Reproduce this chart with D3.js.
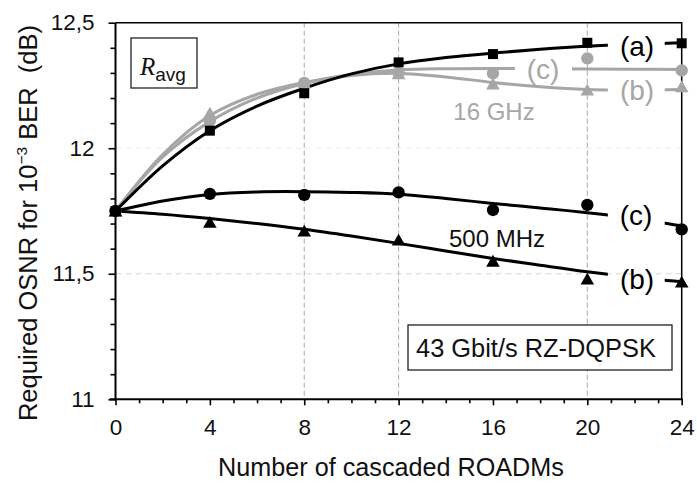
<!DOCTYPE html>
<html>
<head>
<meta charset="utf-8">
<script src="https://cdn.jsdelivr.net/npm/d3@7"></script>
<style>
  html, body { margin: 0; padding: 0; background: #fff; }
  svg { display: block; font-family: "Liberation Sans", Arial, sans-serif; }
  text { white-space: pre; }
</style>
</head>
<body>
<svg id="chart" width="697" height="484"></svg>
<script>
// Measured points: number of cascaded ROADMs vs required OSNR (dB)
const roadms = [0, 4, 8, 12, 16, 20, 24];
const sqA_16GHz   = [11.75, 12.07, 12.219, 12.342, 12.375, 12.42, 12.418];
const circC_16GHz = [11.75, 12.11, 12.26, 12.30, 12.298, 12.358, 12.31];
const triB_16GHz  = [11.75, 12.14, 12.26, 12.296, 12.256, 12.232, 12.245];
const circC_500MHz = [11.75, 11.818, 11.814, 11.824, 11.754, 11.774, 11.677];
const triB_500MHz  = [11.75, 11.705, 11.67, 11.634, 11.55, 11.479, 11.467];

// Trend curves through the measurements
const fitX = [0, 2, 4, 6, 8, 10, 12, 14, 16, 18, 20, 22, 24];
const fitA_16GHz   = [11.75, 11.93, 12.07, 12.168, 12.239, 12.296, 12.336, 12.361, 12.379, 12.394, 12.406, 12.414, 12.42];
const fitC_16GHz   = [11.75, 11.965, 12.106, 12.2, 12.258, 12.295, 12.312, 12.317, 12.318, 12.317, 12.316, 12.315, 12.314];
const fitB_16GHz   = [11.75, 11.975, 12.13, 12.215, 12.262, 12.29, 12.298, 12.284, 12.262, 12.245, 12.234, 12.232, 12.234];
const fitC_500MHz  = [11.75, 11.79, 11.816, 11.826, 11.827, 11.824, 11.817, 11.8, 11.78, 11.762, 11.743, 11.72, 11.69];
const fitB_500MHz  = [11.75, 11.737, 11.72, 11.7, 11.677, 11.65, 11.621, 11.591, 11.561, 11.534, 11.508, 11.486, 11.468];

const xTicks = [0, 4, 8, 12, 16, 20, 24];
const yTicks = [11, 11.5, 12, 12.5];
const xGrid = [8, 12, 20];
const yGrid = [11.5, 12];

const BLACK = "#000";
const GREY = "#a6a6a6";

const svg = d3.select("#chart");
const margin = { left: 115.5, right: 15.3, top: 22.7, bottom: 84.7 };
const W = 697, H = 484;

const x = d3.scaleLinear().domain([0, 24]).range([margin.left, W - margin.right]);
const y = d3.scaleLinear().domain([11, 12.5]).range([H - margin.bottom, margin.top]);

// grid
svg.append("g").selectAll("line").data(xGrid).join("line")
  .attr("x1", d => x(d)).attr("x2", d => x(d))
  .attr("y1", y(12.5)).attr("y2", y(11))
  .attr("stroke", "#a8a8a8").attr("stroke-width", 1).attr("stroke-dasharray", "5,3");
svg.append("g").selectAll("line").data(yGrid).join("line")
  .attr("x1", x(0)).attr("x2", x(24))
  .attr("y1", d => y(d)).attr("y2", d => y(d))
  .attr("stroke", d => d === 12 ? "#ececec" : "#d6d6d6").attr("stroke-width", 1).attr("stroke-dasharray", "6,4");

// frame (top and right)
svg.append("path")
  .attr("d", `M${x(0)},${y(12.5)}H${x(24)}V${y(11)}`)
  .attr("fill", "none").attr("stroke", BLACK).attr("stroke-width", 1.5);

// axes
const fmt = d => d3.format(".1~f")(d).replace(".", ",");
const yMinor = d3.range(11, 12.5001, 0.1).map(v => +v.toFixed(1)).filter(v => !yTicks.includes(v));
const xMinor = d3.range(0, 25).filter(v => !xTicks.includes(v));

function styleAxis(g) {
  g.select(".domain").attr("stroke-width", 2).attr("stroke", BLACK);
  g.selectAll(".tick line").attr("stroke-width", 1.6).attr("stroke", BLACK);
  g.selectAll(".tick text").attr("font-size", 22.5).attr("fill", "#111")
    .attr("font-family", "Liberation Sans, Arial, sans-serif");
}
const gy = svg.append("g").attr("transform", `translate(${x(0)},0)`)
  .call(d3.axisLeft(y).tickValues(yTicks).tickSize(7).tickSizeOuter(0).tickPadding(14).tickFormat(fmt));
styleAxis(gy);
const gyMinor = svg.append("g").attr("transform", `translate(${x(0)},0)`)
  .call(d3.axisLeft(y).tickValues(yMinor).tickSize(5).tickFormat(""));
gyMinor.select(".domain").remove();
gyMinor.selectAll(".tick line").attr("stroke-width", 1.6);

const gx = svg.append("g").attr("transform", `translate(0,${y(11)})`)
  .call(d3.axisBottom(x).tickValues(xTicks).tickSize(6).tickSizeOuter(0).tickPadding(14).tickFormat(d3.format("d")));
styleAxis(gx);
gx.select(".domain").attr("d", `M${x(0) - 6},0H${x(24) + 1}`);
const gxMinor = svg.append("g").attr("transform", `translate(0,${y(11)})`)
  .call(d3.axisBottom(x).tickValues(xMinor).tickSize(4).tickFormat(""));
gxMinor.select(".domain").remove();
gxMinor.selectAll(".tick line").attr("stroke-width", 1.6);
gy.select(".domain").attr("d", `M0,${y(11) + 1}V${y(12.5)}`);

// axis titles
svg.append("text")
  .attr("x", 391).attr("y", 476)
  .attr("text-anchor", "middle").attr("font-size", 25.2).attr("fill", "#111")
  .text("Number of cascaded ROADMs");

const yt = svg.append("text")
  .attr("transform", "translate(37,223) rotate(-90)")
  .attr("text-anchor", "middle").attr("font-size", 25.5).attr("fill", "#111");
yt.append("tspan").text("Required OSNR for 10");
yt.append("tspan").attr("font-size", 15.5).attr("dy", -10).text("\u22123");
yt.append("tspan").attr("dy", 10).text(" BER  (dB)");

// curves, each broken where its end label sits
const line = d3.line().x(d => x(d[0])).y(d => y(d[1])).curve(d3.curveCatmullRom.alpha(0.5));
const curves = [
  { vals: fitB_16GHz, color: GREY, gap: [20.87, 23.28] },
  { vals: fitC_16GHz, color: GREY, gap: [16.93, 19.35] },
  { vals: fitA_16GHz, color: BLACK, gap: [20.87, 23.28] },
  { vals: fitC_500MHz, color: BLACK, gap: [20.87, 23.28] },
  { vals: fitB_500MHz, color: BLACK, gap: [20.87, 23.28] }
];
const defs = svg.append("defs");
curves.forEach((c, i) => {
  const cp = defs.append("clipPath").attr("id", "clip" + i);
  cp.append("rect").attr("x", x(0) - 5).attr("y", 0).attr("width", x(c.gap[0]) - x(0) + 5).attr("height", H);
  cp.append("rect").attr("x", x(c.gap[1])).attr("y", 0).attr("width", x(24) - x(c.gap[1]) + 5).attr("height", H);
  svg.append("path")
    .datum(fitX.map((v, k) => [v, c.vals[k]]))
    .attr("d", line).attr("fill", "none")
    .attr("stroke", c.color).attr("stroke-width", 3)
    .attr("clip-path", `url(#clip${i})`);
});

// markers
const sym = {
  square: d3.symbol().type(d3.symbolSquare).size(100),
  circle: d3.symbol().type(d3.symbolCircle).size(120),
  triangle: d3.symbol().type(d3.symbolTriangle).size(80)
};
const markerSets = [
  { vals: triB_16GHz, color: GREY, shape: "triangle" },
  { vals: circC_16GHz, color: GREY, shape: "circle" },
  { vals: sqA_16GHz, color: BLACK, shape: "square" },
  { vals: circC_500MHz, color: BLACK, shape: "circle" },
  { vals: triB_500MHz, color: BLACK, shape: "triangle" }
];
markerSets.forEach(m => {
  svg.append("g").selectAll("path").data(roadms.map((r, k) => [r, m.vals[k]])).join("path")
    .attr("transform", d => `translate(${x(d[0])},${y(d[1]) + (m.shape === "triangle" ? 1.5 : 0)})`)
    .attr("d", sym[m.shape]()).attr("fill", m.color);
});

// curve labels
const labels = [
  { t: "(a)", xc: 637, yc: 49, color: BLACK },
  { t: "(c)", xc: 543, yc: 72, color: GREY },
  { t: "(b)", xc: 637, yc: 93, color: GREY },
  { t: "(c)", xc: 636, yc: 218, color: BLACK },
  { t: "(b)", xc: 637, yc: 281.5, color: BLACK }
];
svg.append("g").selectAll("text").data(labels).join("text")
  .attr("x", d => d.xc).attr("y", d => d.yc + 0.26 * 28)
  .attr("text-anchor", "middle").attr("font-size", 28).attr("fill", d => d.color)
  .text(d => d.t);

svg.append("text").attr("x", 494).attr("y", 120).attr("text-anchor", "middle")
  .attr("font-size", 24).attr("fill", GREY).text("16 GHz");
svg.append("text").attr("x", 497).attr("y", 247).attr("text-anchor", "middle")
  .attr("font-size", 24).attr("fill", "#111").text("500 MHz");

// boxed annotations
svg.append("rect").attr("x", 131).attr("y", 38).attr("width", 66).attr("height", 50)
  .attr("fill", "#fff").attr("stroke", "#222").attr("stroke-width", 1.3);
const ravg = svg.append("text").attr("x", 140).attr("y", 75).attr("fill", "#111");
ravg.append("tspan").attr("font-family", "Liberation Serif, Times New Roman, serif")
  .attr("font-style", "italic").attr("font-size", 25).text("R");
ravg.append("tspan").attr("font-size", 19).attr("dy", 6).text("avg");

svg.append("rect").attr("x", 408).attr("y", 325).attr("width", 264).attr("height", 45)
  .attr("fill", "#fff").attr("stroke", "#222").attr("stroke-width", 1.3);
svg.append("text").attr("x", 536).attr("y", 356.5).attr("text-anchor", "middle")
  .attr("font-size", 25.4).attr("fill", "#111").text("43 Gbit/s RZ-DQPSK");
</script>
</body>
</html>
